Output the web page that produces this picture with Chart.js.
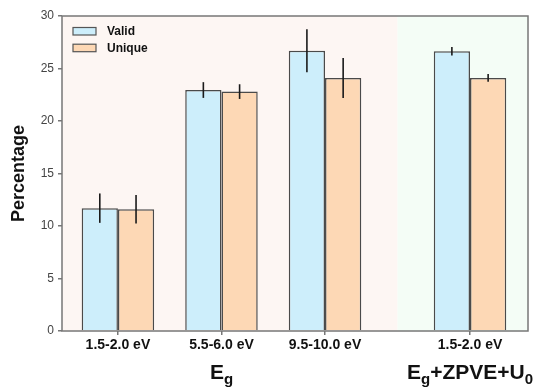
<!DOCTYPE html>
<html>
<head>
<meta charset="utf-8">
<script src="https://cdn.jsdelivr.net/npm/chart.js@4.4.1/dist/chart.umd.min.js"></script>
<style>
  html, body { margin: 0; padding: 0; background: #fff; }
  #wrap { width: 540px; height: 388px; }
</style>
</head>
<body>
<div id="wrap"><canvas id="chart"></canvas></div>
<script>
const groupPositions = [0, 1, 2, 3.4];
const tickLabels = ['1.5-2.0 eV', '5.5-6.0 eV', '9.5-10.0 eV', '1.5-2.0 eV'];
const validValues = [11.7, 22.95, 26.7, 26.65];
const validErrors = [1.4, 0.75, 2.05, 0.4];
const uniqueValues = [11.6, 22.8, 24.1, 24.1];
const uniqueErrors = [1.35, 0.7, 1.9, 0.37];
const yTicks = [0, 5, 10, 15, 20, 25, 30];
const regionSplit = 2.7;
// [text, isSubscript]
const groupTitles = [
    { at: 1, parts: [['E', 0], ['g', 1]] },
    { at: 3.4, parts: [['E', 0], ['g', 1], ['+ZPVE+U', 0], ['0', 1]] }
];

const FONT = "'Liberation Sans', Arial, Helvetica, sans-serif";

// background shading for the two groups
const backgroundPlugin = {
    id: 'bgShade',
    beforeDatasetsDraw(chart) {
        const { ctx, chartArea: a, scales: { x } } = chart;
        const split = x.getPixelForValue(regionSplit);
        ctx.save();
        ctx.fillStyle = '#fdf6f3';
        ctx.fillRect(a.left, a.top, split - a.left, a.bottom - a.top);
        ctx.fillStyle = '#f4fdf6';
        ctx.fillRect(split, a.top, a.right - split, a.bottom - a.top);
        ctx.restore();
    }
};

// error bars, frame, legend, group titles
const overlayPlugin = {
    id: 'overlay',
    afterDatasetsDraw(chart) {
        const { ctx, chartArea: a, scales: { y } } = chart;
        ctx.save();
        ctx.strokeStyle = '#1a1a1a';
        ctx.lineWidth = 1.6;
        chart.data.datasets.forEach((ds, i) => {
            const meta = chart.getDatasetMeta(i);
            meta.data.forEach((bar, j) => {
                const v = ds.data[j].y, e = ds.errors[j];
                ctx.beginPath();
                ctx.moveTo(bar.x, y.getPixelForValue(v + e));
                ctx.lineTo(bar.x, y.getPixelForValue(v - e));
                ctx.stroke();
            });
        });

        // frame
        ctx.strokeStyle = '#777';
        ctx.lineWidth = 1.5;
        ctx.strokeRect(a.left, a.top, a.right - a.left, a.bottom - a.top);

        // legend
        chart.data.datasets.forEach((ds, i) => {
            const bx = a.left + 11, by = a.top + 11.5 + i * 16.7;
            ctx.fillStyle = ds.backgroundColor;
            ctx.fillRect(bx, by, 23, 7.5);
            ctx.strokeStyle = '#555';
            ctx.lineWidth = 1.2;
            ctx.strokeRect(bx, by, 23, 7.5);
            ctx.fillStyle = '#111';
            ctx.font = 'bold 12px ' + FONT;
            ctx.textBaseline = 'middle';
            ctx.textAlign = 'left';
            ctx.fillText(ds.label, a.left + 45, by + 4);
        });
        ctx.restore();
    },
    afterDraw(chart) {
        const { ctx, scales: { x } } = chart;
        ctx.save();
        ctx.fillStyle = '#111';
        ctx.textBaseline = 'alphabetic';
        ctx.textAlign = 'left';
        const mainFont = 'bold 21px ' + FONT;
        const subFont = 'bold 15px ' + FONT;
        groupTitles.forEach(t => {
            let total = 0;
            const widths = t.parts.map(p => {
                ctx.font = p[1] ? subFont : mainFont;
                const w = ctx.measureText(p[0]).width;
                total += w;
                return w;
            });
            let cx = x.getPixelForValue(t.at) - total / 2;
            t.parts.forEach((p, k) => {
                ctx.font = p[1] ? subFont : mainFont;
                ctx.fillText(p[0], cx, p[1] ? 384 : 379);
                cx += widths[k];
            });
        });
        ctx.restore();
    }
};

const ctx = document.getElementById('chart').getContext('2d');
new Chart(ctx, {
    type: 'bar',
    data: {
        datasets: [{
            label: 'Valid',
            data: groupPositions.map((x, i) => ({ x: x, y: validValues[i] })),
            errors: validErrors,
            backgroundColor: '#cdeefb',
            borderColor: '#4a4a4a',
            borderWidth: 1.5
        }, {
            label: 'Unique',
            data: groupPositions.map((x, i) => ({ x: x, y: uniqueValues[i] })),
            errors: uniqueErrors,
            backgroundColor: '#fdd8b5',
            borderColor: '#4a4a4a',
            borderWidth: 1.5
        }]
    },
    options: {
        responsive: true,
        maintainAspectRatio: false,
        animation: false,
        categoryPercentage: 0.7,
        barPercentage: 1.0,
        layout: { padding: { top: 16, right: 12, left: 0, bottom: 0 } },
        plugins: {
            legend: { display: false },
            tooltip: { enabled: false }
        },
        scales: {
            x: {
                type: 'linear',
                min: -0.54,
                max: 3.96,
                offset: false,
                afterBuildTicks: s => { s.ticks = groupPositions.map(v => ({ value: v })); },
                afterFit: s => { s.height = 57; },
                ticks: {
                    callback: (v, i) => tickLabels[i],
                    font: { family: FONT, size: 14, weight: 'bold' },
                    color: '#111',
                    padding: 2,
                    maxRotation: 0,
                    autoSkip: false
                },
                grid: { drawOnChartArea: false, offset: false, tickLength: 4, color: '#777', lineWidth: 1.5 },
                border: { display: false }
            },
            y: {
                min: 0,
                max: 30,
                afterBuildTicks: s => { s.ticks = yTicks.map(v => ({ value: v })); },
                afterFit: s => { s.width = 62; },
                ticks: {
                    font: { family: FONT, size: 12 },
                    color: '#444',
                    padding: 4
                },
                grid: { drawOnChartArea: false, tickLength: 4, color: '#777', lineWidth: 1.5 },
                border: { display: false },
                title: {
                    display: true,
                    text: 'Percentage',
                    font: { family: FONT, size: 18, weight: 'bold' },
                    color: '#111',
                    padding: { top: 8, bottom: 0 }
                }
            }
        }
    },
    plugins: [backgroundPlugin, overlayPlugin]
});
</script>
</body>
</html>
